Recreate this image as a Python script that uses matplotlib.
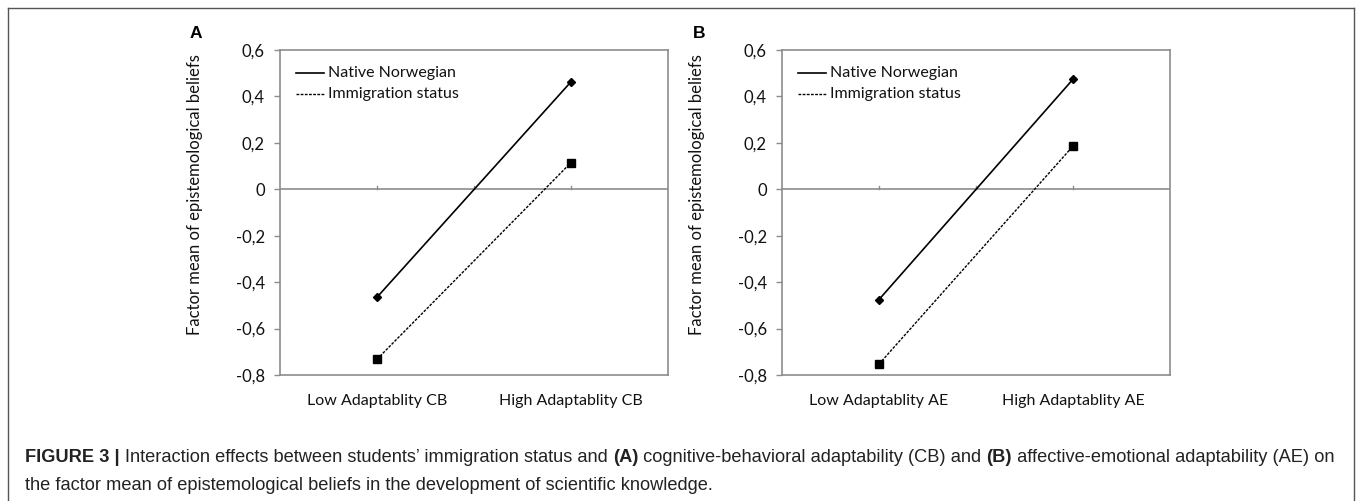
import matplotlib
matplotlib.use("Agg")
import matplotlib.pyplot as plt
from matplotlib.lines import Line2D

categories_A = ["Low Adaptablity CB", "High Adaptablity CB"]
categories_B = ["Low Adaptablity AE", "High Adaptablity AE"]
native_A = [-0.465, 0.463]
immig_A = [-0.732, 0.115]
native_B = [-0.475, 0.474]
immig_B = [-0.753, 0.186]
yticks = [0.6, 0.4, 0.2, 0.0, -0.2, -0.4, -0.6, -0.8]
ytick_labels = ["0,6", "0,4", "0,2", "0", "-0,2", "-0,4", "-0,6", "-0,8"]
series_names = ["Native Norwegian", "Immigration status"]
ylabel = "Factor mean of epistemological beliefs"

W, H = 1358, 501
fig = plt.figure(figsize=(W / 100, H / 100), dpi=100)
fig.patch.set_facecolor("white")

FONT = "Lato"
GRAY = "#8c8c8c"
TXT = "#111111"

# outer frame
for xs, ys in [([8, 8], [0, H - 8]), ([8, W - 4], [H - 8, H - 8]), ([W - 4, W - 4], [0, H - 8])]:
    fig.add_artist(Line2D([x / W for x in xs], [y / H for y in ys], color="#555555", lw=1.0))


def panel(left_px, cats, nat, imm, letter, letter_x):
    ax = fig.add_axes([left_px / W, (H - 375) / H, 388 / W, 325 / H])
    xpos = [1, 3]
    ax.plot(xpos, nat, color="black", lw=1.2, marker="D", ms=4, mfc="black", mec="black")
    ax.plot(xpos, imm, color="black", lw=1.0, ls=(0, (2, 1)), marker="s", ms=5.5, mfc="black", mec="black")
    ax.set_xlim(0, 4)
    ax.set_ylim(-0.8, 0.6)
    ax.axhline(0, color=GRAY, lw=1.2, zorder=1)
    for xt in [1, 2, 3]:
        ax.plot([xt, xt], [0, 0.013], color=GRAY, lw=1.0, zorder=1)
    for s in ax.spines.values():
        s.set_color(GRAY)
        s.set_linewidth(1.2)
    ax.set_yticks(yticks)
    ax.set_yticklabels(ytick_labels, fontsize=12, family=FONT)
    ax.tick_params(axis="y", length=4, color=GRAY, width=1.0, pad=7, labelcolor=TXT)
    ax.set_xticks(xpos)
    ax.set_xticklabels(cats, fontsize=11.5, family=FONT)
    ax.tick_params(axis="x", length=0, pad=14, labelcolor=TXT)
    ax.set_ylabel(ylabel, fontsize=12, family=FONT, color=TXT)
    ax.yaxis.set_label_coords(-0.198, 0.554)
    # legend
    ax.plot([0.17, 0.45], [0.500, 0.500], color="black", lw=1.2)
    ax.plot([0.17, 0.45], [0.409, 0.409], color="black", lw=1.0, ls=(0, (2, 1)))
    ax.text(0.5, 0.500, series_names[0], fontsize=11.5, family=FONT, va="center", ha="left", color=TXT)
    ax.text(0.5, 0.409, series_names[1], fontsize=11.5, family=FONT, va="center", ha="left", color=TXT)
    fig.text(letter_x / W, (H - 34) / H, letter, fontsize=12.5, fontweight="bold",
             family="Liberation Sans", ha="left", va="center")
    return ax


panel(280, categories_A, native_A, immig_A, "A", 190)
panel(782, categories_B, native_B, immig_B, "B", 693)

# caption with mixed weights
line1 = [("FIGURE 3 | ", "bold"), ("Interaction effects between students\u2019 immigration status and ", "normal"),
         ("(A)", "bold"), (" cognitive-behavioral adaptability (CB) and ", "normal"), ("(B)", "bold"),
         (" affective-emotional adaptability (AE) on", "normal")]
line2 = [("the factor mean of epistemological beliefs in the development of scientific knowledge.", "normal")]

fig.canvas.draw()
renderer = fig.canvas.get_renderer()
CAPFS = 13.17
for runs, ypx in [(line1, 457), (line2, 485)]:
    x = 25
    for txt, wt in runs:
        t = fig.text(x / W, (H - ypx) / H, txt, fontsize=CAPFS, fontweight=wt,
                     family="Liberation Sans", color="#222222", ha="left", va="center")
        bb = t.get_window_extent(renderer=renderer)
        x += bb.width

fig.savefig("out.png", dpi=100, facecolor="white")
